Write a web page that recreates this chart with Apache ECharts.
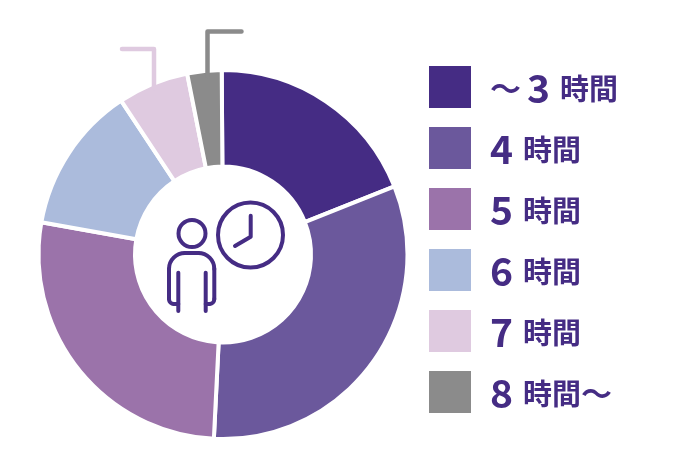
<!DOCTYPE html>
<html>
<head>
<meta charset="utf-8">
<style>
  html, body { margin: 0; padding: 0; background: #fff; }
  #chart { width: 680px; height: 460px; }
</style>
<script src="https://cdn.jsdelivr.net/npm/echarts@6/dist/echarts.min.js"></script>
</head>
<body>
<div id="chart"></div>
<script>
  const categories = ['～3', '4', '5', '6', '7', '8～'];
  const values = [19.1, 31.8, 27.0, 12.9, 6.2, 3.0];
  const colors = ['#452c84', '#6b589c', '#9b73aa', '#abbbdc', '#dfcae0', '#8b8b8b'];
  const textColor = '#452c84';

  const legendText = name => {
    if (name.startsWith('～')) return `{w|～}{g| }{n|${name.slice(1)}}{s| }{t|時間}`;
    if (name.endsWith('～')) return `{n|${name.slice(0, -1)}}{s| }{t|時間}{w|～}`;
    return `{n|${name}}{s| }{t|時間}`;
  };

  const line = (points, color) => ({
    type: 'polyline',
    z: 5,
    shape: { points },
    style: { stroke: color, lineWidth: 4.5, fill: null, lineCap: 'round', lineJoin: 'round' }
  });
  const iconStyle = { stroke: textColor, lineWidth: 4, fill: null, lineCap: 'round', lineJoin: 'round' };
  const iconLine = points => ({ type: 'polyline', z: 5, shape: { points }, style: iconStyle });
  const iconArc = (cx, cy, r, startAngle, endAngle) => ({
    type: 'arc',
    z: 5,
    shape: { cx, cy, r, startAngle, endAngle, clockwise: true },
    style: iconStyle
  });

  const chart = echarts.init(document.getElementById('chart'));
  chart.setOption({
    animation: false,
    color: colors,
    legend: {
      orient: 'vertical',
      left: 424,
      top: 61,
      padding: 5,
      itemWidth: 42,
      itemHeight: 42,
      itemGap: 19,
      icon: 'rect',
      itemStyle: { borderWidth: 0 },
      selectedMode: false,
      data: categories,
      formatter: legendText,
      textStyle: {
        color: textColor,
        padding: [3, 0, 0, 14],
        rich: {
          n: { fontFamily: 'Noto Sans CJK JP', fontWeight: 'bold', fontSize: 39, color: textColor, lineHeight: 38 },
          t: { fontFamily: 'Noto Sans CJK JP', fontWeight: 'bold', fontSize: 29, color: textColor, lineHeight: 38 },
          w: { fontFamily: 'Noto Sans CJK JP', fontWeight: 'bold', fontSize: 31, color: textColor, lineHeight: 38 },
          g: { width: 6, lineHeight: 38 },
          s: { width: 10, lineHeight: 38 }
        }
      }
    },
    series: [{
      type: 'pie',
      z: 2,
      silent: true,
      center: [223, 254.5],
      radius: [88, 184.5],
      startAngle: 90.4,
      clockwise: true,
      label: { show: false },
      labelLine: { show: false },
      itemStyle: { borderColor: '#fff', borderWidth: 4 },
      data: categories.map((name, i) => ({ name, value: values[i] }))
    }],
    graphic: [
      line([[154, 88], [154, 49], [122, 49]], colors[4]),
      line([[207.5, 76], [207.5, 31.5], [241.5, 31.5]], colors[5]),
      { type: 'circle', z: 5, shape: { cx: 250.5, cy: 235, r: 32.5 }, style: iconStyle },
      iconLine([[250.7, 215.7], [250.7, 236.7], [235, 246]]),
      { type: 'circle', z: 5, shape: { cx: 192, cy: 233.5, r: 13.5 }, style: iconStyle },
      // body outline
      iconArc(185, 269, 16, Math.PI, Math.PI * 1.5),
      iconArc(198.3, 269, 16, Math.PI * 1.5, Math.PI * 2),
      iconLine([[185, 253], [198.3, 253]]),
      iconLine([[169, 269], [169, 299]]),
      iconLine([[214.3, 269], [214.3, 299]]),
      iconArc(174, 299, 5, Math.PI * 0.5, Math.PI),
      iconArc(209.3, 299, 5, 0, Math.PI * 0.5),
      iconLine([[174, 304], [178.3, 304]]),
      iconLine([[209.3, 304], [205.7, 304]]),
      // arms
      iconLine([[178.3, 272.7], [178.3, 311]]),
      iconLine([[205.7, 272.7], [205.7, 311]])
    ]
  });
</script>
</body>
</html>
